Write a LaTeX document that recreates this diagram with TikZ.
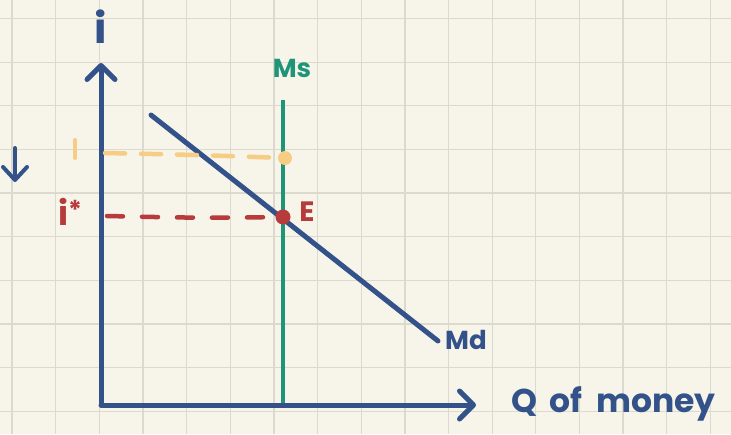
\documentclass[tikz,border=0pt]{standalone}
\usepackage{fontspec}
\setmainfont{Poppins}
\usetikzlibrary{arrows.meta}
\definecolor{bgc}{HTML}{F7F5EA}
\definecolor{gridc}{HTML}{DCDACE}
\definecolor{bluec}{HTML}{33528A}
\definecolor{greenc}{HTML}{1E9479}
\definecolor{yellowc}{HTML}{F6CD82}
\definecolor{redc}{HTML}{B73B3B}
\tikzset{
  axis/.style={draw=bluec, line width=5pt, line cap=round, line join=round},
  chev/.style={-{Straight Barb[length=14pt,width=28pt,round]}},
  curveline/.style={draw=bluec, line width=5pt, line cap=round},
  msline/.style={draw=greenc, line width=4.5pt},
  ydash/.style={draw=yellowc, line width=4.5pt, line cap=round, dash pattern=on 20pt off 16pt},
  rdash/.style={draw=redc, line width=4.5pt, line cap=round, dash pattern=on 16pt off 19pt},
  lbl/.style={inner sep=0pt, font=\bfseries\fontsize{26}{28}\selectfont},
}
\begin{document}
\begin{tikzpicture}[x=1pt,y=-1pt]
\fill[bgc] (0,0) rectangle (731,434);
\useasboundingbox (0,0) rectangle (731,434);
% grid
\foreach \k in {0,...,16} \draw[gridc, line width=1.3pt] ({12+43.65*\k},0) -- ({12+43.65*\k},434);
\foreach \k in {0,...,9} \draw[gridc, line width=1.3pt] (0,{18.5+43.65*\k}) -- (731,{18.5+43.65*\k});
% coordinates
\coordinate (O) at (101,405);
\coordinate (Ytop) at (101,63);
\coordinate (Xend) at (476,405);
\coordinate (MsTop) at (283,100);
\coordinate (MsBot) at (283,405);
\coordinate (MdA) at (151,115);
\coordinate (MdB) at (438,341);
\coordinate (Yd) at (285,158);
\coordinate (Ed) at (283,217);
\coordinate (YdS) at (105,153);
\coordinate (RdS) at (107,216);
\coordinate (TickA) at (75,140);
\coordinate (TickB) at (75,158);
\coordinate (DnA) at (15,148);
\coordinate (DnB) at (15,182);
% supply line
\draw[msline] (MsTop) -- (MsBot);
% axes
\draw[axis, chev] (O) -- (Ytop);
\draw[axis, chev] (O) -- (Xend);
% demand
\draw[curveline] (MdA) -- (MdB);
% dashed guides
\draw[ydash] (YdS) .. controls (200,155) .. (Yd);
\draw[rdash] (RdS) .. controls (200,218) .. (Ed);
\fill[yellowc] (Yd) circle (7pt);
\fill[redc] (Ed) circle (7.5pt);
% yellow tick and down arrow
\draw[yellowc, line width=4pt, line cap=round] (TickA) -- (TickB);
\draw[bluec, line width=4pt, line cap=round, -{Straight Barb[length=13pt,width=24pt,round]}] (DnA) -- (DnB);
% labels
\node[lbl, text=bluec, font=\bfseries\fontsize{42}{44}\selectfont] (ilab) at (101,27) {i};
\node[lbl, text=greenc] (mslab) at (292,68) {Ms};
\node[lbl, text=bluec] (mdlab) at (466,340) {Md};
\node[lbl, text=redc, font=\bfseries\fontsize{28}{30}\selectfont] (elab) at (307,212) {E};
\node[lbl, text=redc, font=\bfseries\fontsize{34}{36}\selectfont] (istar) at (70,212) {i\raisebox{6pt}{\fontsize{26}{28}\selectfont*}};
\node[lbl, text=bluec, font=\bfseries\fontsize{33}{36}\selectfont, anchor=west] (qlab) at (511,404) {Q\hspace{12pt}of\hspace{14pt}money};
\end{tikzpicture}
\end{document}
